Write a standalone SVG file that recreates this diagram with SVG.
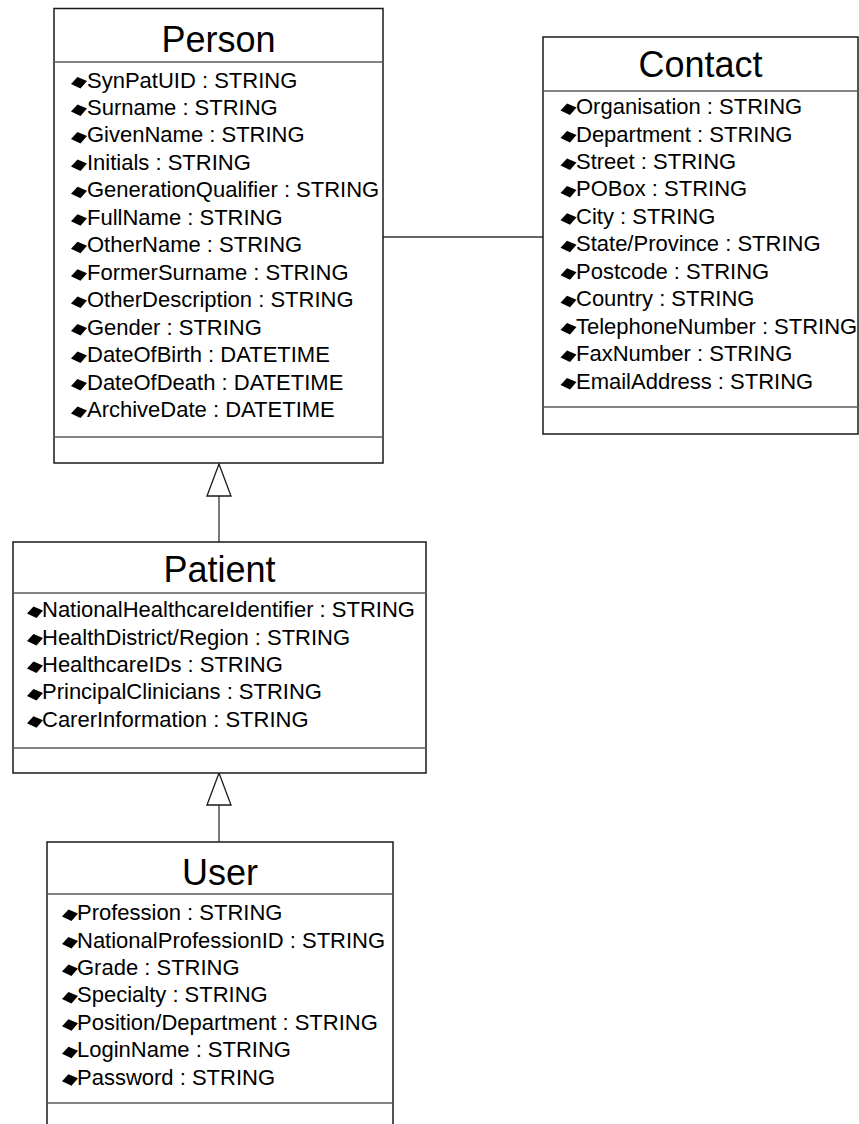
<svg xmlns="http://www.w3.org/2000/svg" xmlns:xlink="http://www.w3.org/1999/xlink" width="859" height="1124" viewBox="0 0 859 1124">
  <style>
    .box { fill: #ffffff; stroke: #1a1a1a; stroke-width: 1.5; }
    .sep { stroke: #5a5a5a; stroke-width: 1.5; fill: none; }
    .title { font-family: "Liberation Sans", Arial, sans-serif; font-size: 36px; fill: #000; text-anchor: middle; }
    .attr { font-family: "Liberation Sans", Arial, sans-serif; font-size: 22px; fill: #000; }
    .conn { stroke: #333333; stroke-width: 1.3; fill: none; }
  </style>
  <defs>
    <!-- attribute visibility glyph -->
    <path id="dot" d="M-8,1.5 L-1.5,-5.5 L8,-1.5 L1.5,6 Z" fill="#000"/>
    <!-- hollow generalization arrowhead -->
    <marker id="gen" viewBox="0 0 34 26" refX="33" refY="13" markerWidth="34" markerHeight="26" markerUnits="userSpaceOnUse" orient="auto">
      <path d="M1,1 L33,13 L1,25 Z" fill="#ffffff" stroke="#1a1a1a" stroke-width="1.3"/>
    </marker>
  </defs>

  <g id="connectors">
    <line class="conn" x1="383" y1="237" x2="543" y2="237"/>
    <path class="conn" d="M219,542 L219,464" marker-end="url(#gen)"/>
    <path class="conn" d="M219,842 L219,773" marker-end="url(#gen)"/>
  </g>

  <g id="person">
    <rect class="box" x="54" y="8.5" width="329" height="454.5"/>
    <line class="sep" x1="54" y1="62" x2="383" y2="62"/>
    <line class="sep" x1="54" y1="437" x2="383" y2="437"/>
    <text class="title" x="218.5" y="52">Person</text>
    <g class="attr">
      <use xlink:href="#dot" x="79" y="82.5"/><text x="87" y="87.5">SynPatUID : STRING</text>
      <use xlink:href="#dot" x="79" y="110"/><text x="87" y="115">Surname : STRING</text>
      <use xlink:href="#dot" x="79" y="137.4"/><text x="87" y="142.4">GivenName : STRING</text>
      <use xlink:href="#dot" x="79" y="164.9"/><text x="87" y="169.9">Initials : STRING</text>
      <use xlink:href="#dot" x="79" y="192.3"/><text x="87" y="197.3">GenerationQualifier : STRING</text>
      <use xlink:href="#dot" x="79" y="219.8"/><text x="87" y="224.8">FullName : STRING</text>
      <use xlink:href="#dot" x="79" y="247.2"/><text x="87" y="252.2">OtherName : STRING</text>
      <use xlink:href="#dot" x="79" y="274.7"/><text x="87" y="279.7">FormerSurname : STRING</text>
      <use xlink:href="#dot" x="79" y="302.1"/><text x="87" y="307.1">OtherDescription : STRING</text>
      <use xlink:href="#dot" x="79" y="329.6"/><text x="87" y="334.6">Gender : STRING</text>
      <use xlink:href="#dot" x="79" y="357"/><text x="87" y="362">DateOfBirth : DATETIME</text>
      <use xlink:href="#dot" x="79" y="384.5"/><text x="87" y="389.5">DateOfDeath : DATETIME</text>
      <use xlink:href="#dot" x="79" y="411.9"/><text x="87" y="416.9">ArchiveDate : DATETIME</text>
    </g>
  </g>

  <g id="contact">
    <rect class="box" x="543" y="37" width="315" height="397"/>
    <line class="sep" x1="543" y1="91" x2="858" y2="91"/>
    <line class="sep" x1="543" y1="407" x2="858" y2="407"/>
    <text class="title" x="700.5" y="77">Contact</text>
    <g class="attr">
      <use xlink:href="#dot" x="568.5" y="109"/><text x="576" y="114">Organisation : STRING</text>
      <use xlink:href="#dot" x="568.5" y="136.5"/><text x="576" y="141.5">Department : STRING</text>
      <use xlink:href="#dot" x="568.5" y="163.9"/><text x="576" y="168.9">Street : STRING</text>
      <use xlink:href="#dot" x="568.5" y="191.4"/><text x="576" y="196.4">POBox : STRING</text>
      <use xlink:href="#dot" x="568.5" y="218.8"/><text x="576" y="223.8">City : STRING</text>
      <use xlink:href="#dot" x="568.5" y="246.3"/><text x="576" y="251.3">State/Province : STRING</text>
      <use xlink:href="#dot" x="568.5" y="273.7"/><text x="576" y="278.7">Postcode : STRING</text>
      <use xlink:href="#dot" x="568.5" y="301.2"/><text x="576" y="306.2">Country : STRING</text>
      <use xlink:href="#dot" x="568.5" y="328.6"/><text x="576" y="333.6">TelephoneNumber : STRING</text>
      <use xlink:href="#dot" x="568.5" y="356.1"/><text x="576" y="361.1">FaxNumber : STRING</text>
      <use xlink:href="#dot" x="568.5" y="383.5"/><text x="576" y="388.5">EmailAddress : STRING</text>
    </g>
  </g>

  <g id="patient">
    <rect class="box" x="13" y="542" width="413" height="231"/>
    <line class="sep" x1="13" y1="593" x2="426" y2="593"/>
    <line class="sep" x1="13" y1="748" x2="426" y2="748"/>
    <text class="title" x="219.5" y="582">Patient</text>
    <g class="attr">
      <use xlink:href="#dot" x="35" y="612"/><text x="42" y="617">NationalHealthcareIdentifier : STRING</text>
      <use xlink:href="#dot" x="35" y="639.5"/><text x="42" y="644.5">HealthDistrict/Region : STRING</text>
      <use xlink:href="#dot" x="35" y="666.9"/><text x="42" y="671.9">HealthcareIDs : STRING</text>
      <use xlink:href="#dot" x="35" y="694.4"/><text x="42" y="699.4">PrincipalClinicians : STRING</text>
      <use xlink:href="#dot" x="35" y="721.8"/><text x="42" y="726.8">CarerInformation : STRING</text>
    </g>
  </g>

  <g id="user">
    <rect class="box" x="47" y="842" width="346" height="288"/>
    <line class="sep" x1="47" y1="894" x2="393" y2="894"/>
    <line class="sep" x1="47" y1="1103" x2="393" y2="1103"/>
    <text class="title" x="220" y="885">User</text>
    <g class="attr">
      <use xlink:href="#dot" x="70" y="915"/><text x="77" y="920">Profession : STRING</text>
      <use xlink:href="#dot" x="70" y="942.5"/><text x="77" y="947.5">NationalProfessionID : STRING</text>
      <use xlink:href="#dot" x="70" y="969.9"/><text x="77" y="974.9">Grade : STRING</text>
      <use xlink:href="#dot" x="70" y="997.4"/><text x="77" y="1002.4">Specialty : STRING</text>
      <use xlink:href="#dot" x="70" y="1024.8"/><text x="77" y="1029.8">Position/Department : STRING</text>
      <use xlink:href="#dot" x="70" y="1052.3"/><text x="77" y="1057.3">LoginName : STRING</text>
      <use xlink:href="#dot" x="70" y="1079.7"/><text x="77" y="1084.7">Password : STRING</text>
    </g>
  </g>
</svg>
